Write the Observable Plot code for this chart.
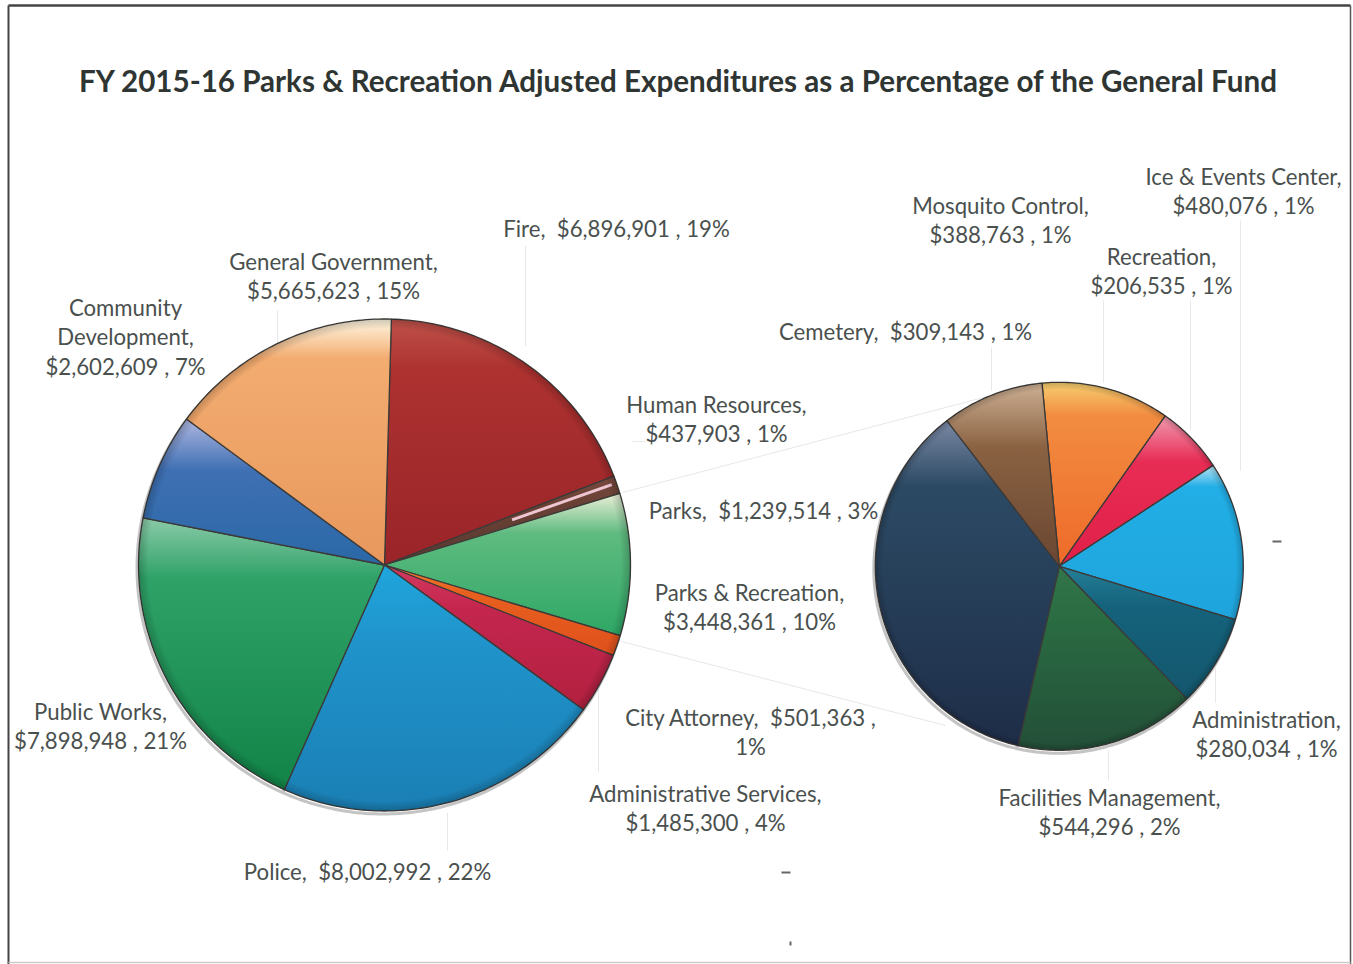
<!DOCTYPE html>
<html><head><meta charset="utf-8">
<script src="https://cdn.jsdelivr.net/npm/d3@7"></script>
<script src="https://cdn.jsdelivr.net/npm/@observablehq/plot@0.6"></script>
<style>html,body{margin:0;padding:0;background:#fff}svg{display:block}</style>
</head><body><div id="chart"></div>
<script>
const chartTitle = "FY 2015-16 Parks & Recreation Adjusted Expenditures as a Percentage of the General Fund";

// General Fund pie, clockwise from the top
const fundNames = ["Fire","Human Resources","Parks & Recreation","City Attorney","Administrative Services","Police","Public Works","Community\nDevelopment","General Government"];
const fundValues = [6896901,437903,3448361,501363,1485300,8002992,7898948,2602609,5665623];
const fundPercents = [19,1,10,1,4,22,21,7,15];

// Parks & Recreation breakdown pie, clockwise from the top
const parksNames = ["Mosquito Control","Recreation","Ice & Events Center","Administration","Facilities Management","Parks","Cemetery"];
const parksValues = [388763,206535,480076,280034,544296,1239514,309143];
const parksPercents = [1,1,1,1,2,3,1];

// Styling, kept apart from the values: [top, middle, bottom, offset of middle] of each slice
const fundColors = [
  ["#c0524a","#ad3230","#9a2429",0.2],["#7a4a40","#6a4035","#5a3a30",0.3],["#ecefd8","#5fbb80","#2ea765",0.28],
  ["#f08030","#e8601f","#e0501c",0.3],["#d63a60","#c4264e","#b2203f",0.3],["#1fa6dc","#2094cc","#1a7fb4",0.3],
  ["#8acba8","#2fa268","#118347",0.22],["#aeb6e0","#3f70b4","#2a68a6",0.35],["#fff8e4","#f3ac70","#e8985c",0.16]
];
const parksColors = [
  ["#f6cf70","#f28c40","#ee6a28",0.18],["#f09ab0","#e82d55","#e01f48",0.3],["#b8e4f4","#22aee6","#1fa4dc",0.14],
  ["#257f98","#15627c","#13566c",0.3],["#33754a","#2a6b42","#234f38",0.3],["#7a88a4","#2c4a64","#1e2d48",0.2],
  ["#cdb094","#8a6242","#6a4632",0.35]
];
const pieGeometry = {fund:{cx:384,cy:564.5,r:246,start:1.6},parks:{cx:1058.8,cy:565.8,r:184,start:-5.4}};

// Label anchors: centre x, centre y, line-break style
const fundLabelAt = [[616,230,"one"],[716,420,"two"],[749,608,"two"],[750,733,"city"],[705,809,"two"],[367,873,"one"],[100,727,"two"],[125,338,"two"],[333,277,"two"]];
const parksLabelAt = [[1000,221,"two"],[1161,272,"two"],[1243,192,"two"],[1266,735,"two"],[1109,813,"two"],[763,512,"one"],[905,333,"one"]];

// Thin grey leader lines and connectors as drawn on the page: x1,y1,x2,y2
const leaders = [[525,245,525,346],[277,310,277,345],[598,655,598,772],[447,812,447,850],[632,441,645,441],
  [991,347,991,390],[1103,300,1103,382],[1190,300,1190,430],[1240,220,1240,470],[1215,668,1215,702],[1108,750,1108,780],
  [622,492,1040,382],[617,640,945,725]];
const frameLines = [[8,5,8,964,"#444",2],[8,5,1350,5,"#444",2.5],[1350,5,1350,964,"#555",1.5],[8,962,1350,962,"#ccc",1.5]];
const specks = [[781,872,790,872],[1272,541,1281,541],[790,941,790,945]];

function buildPie(key,names,values,percents,colors,labelAt){
  const g = pieGeometry[key];
  const arcs = d3.pie().sort(null).startAngle(g.start*Math.PI/180).endAngle((g.start+360)*Math.PI/180)(values);
  const points = [], slices = [], labels = [];
  arcs.forEach((a,i)=>{
    const id = `${key}${i}`;
    points.push({id,x:g.cx,y:g.cy,fill:`url(#${id})`});
    const n = Math.max(2,Math.ceil((a.endAngle-a.startAngle)*180/Math.PI));
    for(let k=0;k<=n;k++){
      const t = a.startAngle+(a.endAngle-a.startAngle)*k/n;
      points.push({id,x:g.cx+g.r*Math.sin(t),y:g.cy-g.r*Math.cos(t),fill:`url(#${id})`});
    }
    points.push({id,x:g.cx,y:g.cy,fill:`url(#${id})`});
    slices.push({id,stops:colors[i]});
    const money = "$"+d3.format(",")(values[i]);
    const [x,y,mode] = labelAt[i];
    const text = mode==="one" ? `${names[i]},  ${money} , ${percents[i]}%`
               : mode==="city" ? `${names[i]},  ${money} ,\n${percents[i]}%`
               : `${names[i]},\n${money} , ${percents[i]}%`;
    labels.push({x,y,text});
  });
  return {points,slices,labels,arcs,g};
}
const fund = buildPie("fund",fundNames,fundValues,fundPercents,fundColors,fundLabelAt);
const parks = buildPie("parks",parksNames,parksValues,parksPercents,parksColors,parksLabelAt);
const allPoints = fund.points.concat(parks.points);
const allSlices = fund.slices.concat(parks.slices);
const allLabels = fund.labels.concat(parks.labels);
// The thin Human Resources slice reads as a pale streak inside a dark wedge
const hrArc = fund.arcs[1];
const hrAngle = hrArc.startAngle+0.4*(hrArc.endAngle-hrArc.startAngle);
const hrStreak = [[0.55,0.98].flatMap(f=>[fund.g.cx+f*fund.g.r*Math.sin(hrAngle),fund.g.cy-f*fund.g.r*Math.cos(hrAngle)])];
const pieDiscs = [fund.g,parks.g];

function gradients(){
  const defs = d3.create("svg:defs");
  for(const s of allSlices){
    const lg = defs.append("linearGradient").attr("id",s.id).attr("x1",0).attr("y1",0).attr("x2",0).attr("y2",1);
    [[0,s.stops[0]],[s.stops[3],s.stops[1]],[1,s.stops[2]]].forEach(([o,c])=>lg.append("stop").attr("offset",o).attr("stop-color",c));
  }
  const rg = defs.append("radialGradient").attr("id","rim");
  [[0,0],[0.96,0],[1,0.2]].forEach(([o,a])=>rg.append("stop").attr("offset",o).attr("stop-color","#000").attr("stop-opacity",a));
  return defs.node();
}
const segment = {x1:d=>d[0],y1:d=>d[1],x2:d=>d[2],y2:d=>d[3]};

const plot = Plot.plot({
  width:1353,height:964,margin:0,
  x:{domain:[0,1353],range:[0,1353],axis:null},
  y:{domain:[0,964],range:[0,964],axis:null},
  r:{type:"identity"},
  color:{type:"identity"},
  style:{background:"#fff"},
  marks:[
    gradients,
    Plot.link(frameLines,{...segment,stroke:d=>d[4],strokeWidth:d=>d[5]}),
    Plot.link(leaders,{...segment,stroke:"#e8e8e8",strokeWidth:1}),
    Plot.link(specks,{...segment,stroke:"#666",strokeWidth:2}),
    Plot.line(allPoints,{x:"x",y:"y",z:"id",dx:-1.5,dy:3,stroke:"#c4c4c4",strokeWidth:3}),
    Plot.line(allPoints,{x:"x",y:"y",z:"id",fill:"fill",stroke:"#3c3a38",strokeWidth:1.3,strokeLinejoin:"round"}),
    Plot.link(hrStreak,{...segment,stroke:"#eec6d2",strokeWidth:3}),
    Plot.dot(pieDiscs,{x:"cx",y:"cy",r:"r",fill:"url(#rim)",stroke:"none"}),
    Plot.text(allLabels,{x:"x",y:"y",dy:-2.5,text:"text",fontFamily:"Lato",fontSize:22.2,lineHeight:1.33,fill:"#4a504e",textAnchor:"middle"}),
    Plot.text([chartTitle],{x:677.5,y:82,fontFamily:"Lato",fontWeight:700,fontSize:29.6,fill:"#2e3532",textAnchor:"middle"})
  ]
});
document.getElementById("chart").append(plot);
</script></body></html>
